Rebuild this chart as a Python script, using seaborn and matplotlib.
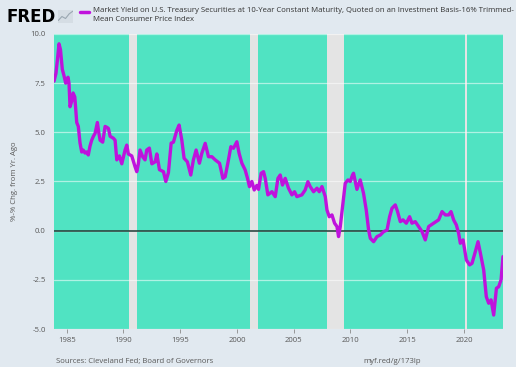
import matplotlib
matplotlib.use("Agg")
import matplotlib.pyplot as plt
import seaborn as sns
import pandas as pd

# ----------------------------
# Data
# ----------------------------
years = [
    1983.88, 1984.05, 1984.20, 1984.32, 1984.45, 1984.61, 1984.75, 1984.91,
    1985.11, 1985.20, 1985.29, 1985.45, 1985.56, 1985.71, 1985.88,
    1986.02, 1986.17, 1986.32, 1986.45, 1986.61, 1986.75, 1986.90,
    1987.05, 1987.20, 1987.35, 1987.50, 1987.70, 1987.82, 1987.94,
    1988.17, 1988.38, 1988.55, 1988.67, 1988.82,
    1989.11, 1989.26, 1989.41, 1989.64, 1989.85,
    1990.14, 1990.29, 1990.43, 1990.73,
    1991.02, 1991.17, 1991.31, 1991.46, 1991.70, 1991.90,
    1992.05, 1992.28, 1992.50, 1992.79, 1992.94,
    1993.17, 1993.52, 1993.73, 1993.96,
    1994.20, 1994.40, 1994.70, 1994.90,
    1995.14, 1995.34, 1995.63, 1995.93,
    1996.16, 1996.40, 1996.69, 1996.90,
    1997.20, 1997.49, 1997.79,
    1998.08, 1998.46, 1998.76, 1998.96,
    1999.25, 1999.46, 1999.69, 1999.99,
    2000.19, 2000.43, 2000.72, 2000.93,
    2001.10, 2001.31, 2001.52, 2001.75, 2001.90,
    2002.13, 2002.34, 2002.49, 2002.72,
    2003.08, 2003.37, 2003.61, 2003.81,
    2004.01, 2004.25, 2004.54, 2004.84,
    2005.07, 2005.28, 2005.72,
    2006.01, 2006.25, 2006.45, 2006.75,
    2007.05, 2007.25, 2007.49, 2007.78, 2007.93,
    2008.13, 2008.37, 2008.60, 2008.81, 2008.95,
    2009.10, 2009.30, 2009.54, 2009.78, 2009.98,
    2010.18, 2010.27, 2010.57, 2010.86,
    2011.15, 2011.39, 2011.60, 2011.75,
    2012.04, 2012.34, 2012.63, 2012.92,
    2013.22, 2013.45, 2013.66, 2013.95,
    2014.15, 2014.39, 2014.63, 2014.92,
    2015.21, 2015.42, 2015.71,
    2016.01, 2016.30, 2016.59, 2016.89,
    2017.33, 2017.77,
    2018.07, 2018.36, 2018.65, 2018.86,
    2019.09, 2019.33, 2019.53, 2019.68, 2019.92,
    2020.21, 2020.50, 2020.71,
    2021.00, 2021.24, 2021.45, 2021.74, 2021.97,
    2022.18, 2022.39, 2022.62, 2022.86,
    2023.06, 2023.27, 2023.44,
]
spread = [
    7.6, 8.0, 8.8, 9.5, 9.2, 8.2, 7.9, 7.5,
    7.8, 7.5, 6.3, 6.6, 7.0, 6.8, 5.5,
    5.3, 4.46, 4.0, 4.1, 3.95, 4.0, 3.85,
    4.3, 4.6, 4.8, 4.95, 5.5, 5.0, 4.6,
    4.5, 5.3, 5.25, 5.2, 4.8,
    4.7, 4.6, 3.6, 3.8, 3.4,
    4.1, 4.35, 3.9, 3.8,
    3.25, 3.0, 3.4, 4.1, 3.75, 3.6,
    4.1, 4.2, 3.4, 3.5, 3.9,
    3.1, 3.0, 2.5, 2.95,
    4.45, 4.5, 5.1, 5.37,
    4.6, 3.68, 3.5, 2.83,
    3.6, 4.1, 3.43, 3.93,
    4.44, 3.76, 3.76,
    3.6, 3.43, 2.66, 2.74,
    3.6, 4.27, 4.19, 4.52,
    3.93, 3.43, 3.09, 2.66,
    2.24, 2.5, 2.07, 2.3, 2.1,
    2.92, 3.0, 2.66, 1.82,
    1.98, 1.73, 2.66, 2.83,
    2.32, 2.66, 2.16, 1.82,
    1.98, 1.73, 1.82,
    2.07, 2.49, 2.24, 1.98,
    2.16, 1.98, 2.24, 1.73, 1.05,
    0.71, 0.8, 0.38, 0.21, -0.3,
    0.2, 1.22, 2.41, 2.58, 2.5,
    2.83, 2.92, 2.1, 2.58,
    1.9, 1.05, 0.03, -0.39,
    -0.56, -0.3, -0.22, -0.05,
    0.03, 0.71, 1.14, 1.31,
    0.97, 0.46, 0.55, 0.38,
    0.71, 0.38, 0.46,
    0.21, -0.04, -0.47, 0.21,
    0.38, 0.55,
    0.97, 0.8, 0.8, 0.97,
    0.55, 0.29, -0.13, -0.64, -0.47,
    -1.49, -1.74, -1.66,
    -1.07, -0.56, -1.15, -2.0, -3.36,
    -3.69, -3.52, -4.29, -2.93,
    -2.85, -2.5, -1.32,
]

# NBER recessions (shaded)
rec_start = [1990.50, 2001.17, 2007.92, 2020.08]
rec_end = [1991.17, 2001.83, 2009.42, 2020.29]

x_ticks = [1985, 1990, 1995, 2000, 2005, 2010, 2015, 2020]
y_ticks = [-5.0, -2.5, 0.0, 2.5, 5.0, 7.5, 10.0]

series_name = ("Market Yield on U.S. Treasury Securities at 10-Year Constant Maturity, "
               "Quoted on an Investment Basis-16% Trimmed-\nMean Consumer Price Index")

df = pd.DataFrame({"year": years, "value": spread})

# ----------------------------
# Style
# ----------------------------
sns.set_style("white")
plt.rcParams["font.family"] = ["Open Sans", "DejaVu Sans"]

page_bg = "#e1e9f0"
plot_bg = "#50e3c2"
rec_color = "#e4e4e4"
line_color = "#bf12dc"
text_color = "#595959"

fig = plt.figure(figsize=(5.16, 3.67), dpi=100, facecolor=page_bg)
ax = fig.add_axes([0.1047, 0.1035, 0.8701, 0.8039])
ax.set_facecolor(plot_bg)

for s, e in zip(rec_start, rec_end):
    ax.axvspan(s, e, color=rec_color, lw=0, zorder=1)

for yv in y_ticks:
    ax.axhline(yv, color="white", alpha=0.55, lw=0.9, zorder=1.5)
ax.axhline(0, color="#1f3a33", lw=1.1, zorder=2)

sns.lineplot(data=df, x="year", y="value", ax=ax, color=line_color,
             lw=2.4, zorder=3, legend=False)

ax.set_xlim(years[0], years[-1])
ax.set_ylim(-5, 10)
ax.set_xticks(x_ticks)
ax.set_xticklabels([str(t) for t in x_ticks])
ax.set_yticks(y_ticks)
ax.set_yticklabels([f"{t:.1f}" for t in y_ticks])
ax.tick_params(axis="x", length=3, width=0.6, color="#8a8a8a", labelsize=5.6,
               labelcolor=text_color, pad=3, direction="out", bottom=True)
ax.tick_params(axis="y", length=0, labelsize=5.6, labelcolor=text_color, pad=6)
for sp in ax.spines.values():
    sp.set_visible(False)
ax.set_xlabel("")
ax.set_ylabel("%-% Chg. from Yr. Ago", fontsize=5.6, color=text_color, labelpad=9)

# ----------------------------
# Header / footer
# ----------------------------
fig.text(0.012, 0.955, "FRED", fontsize=12, fontweight="bold", color="black",
         va="center", ha="left", family=["DejaVu Sans"])
icon = fig.add_axes([0.113, 0.937, 0.028, 0.036])
icon.set_facecolor("#d5dde4")
icon.plot([0, 1, 2, 3, 4], [0.2, 0.5, 0.35, 0.7, 0.9], color="#9aa7b1", lw=0.8)
icon.set_xlim(0, 4)
icon.set_ylim(0, 1)
icon.set_xticks([])
icon.set_yticks([])
for sp in icon.spines.values():
    sp.set_visible(False)

fig.lines.append(plt.Line2D([0.155, 0.173], [0.967, 0.967], color=line_color,
                            lw=2.5, transform=fig.transFigure))
fig.text(0.18, 0.982, series_name, fontsize=5.6, color="#333333",
         va="top", ha="left", linespacing=1.45)

fig.text(0.108, 0.006, "Sources: Cleveland Fed; Board of Governors", fontsize=5.6,
         color=text_color, va="bottom", ha="left")
fig.text(0.705, 0.006, "myf.red/g/173lp", fontsize=5.6, color=text_color,
         va="bottom", ha="left")

fig.savefig("out.png", dpi=100, facecolor=page_bg)
